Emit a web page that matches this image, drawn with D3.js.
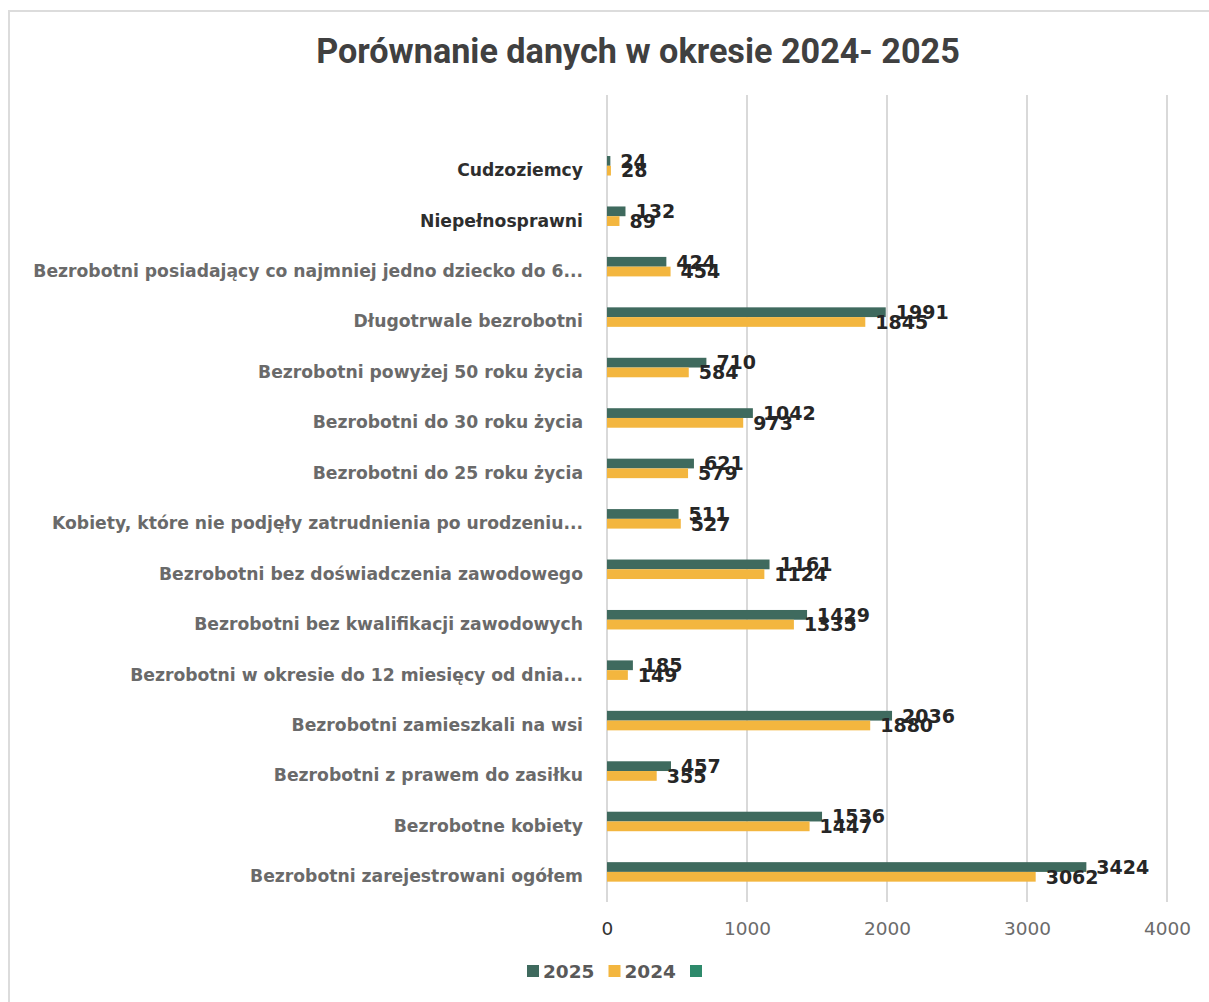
<!DOCTYPE html>
<html lang="pl">
<head>
<meta charset="utf-8">
<title>Porównanie danych w okresie 2024- 2025</title>
<script src="https://cdn.jsdelivr.net/npm/d3@7"></script>
<style>
  html, body { margin: 0; padding: 0; background: #ffffff; }
  svg { display: block; }
</style>
</head>
<body>
<div id="chart"></div>
<script>
// Kategorie (od góry wykresu do dołu)
const categories = [
  "Cudzoziemcy",
  "Niepełnosprawni",
  "Bezrobotni posiadający co najmniej jedno dziecko do 6...",
  "Długotrwale bezrobotni",
  "Bezrobotni powyżej 50 roku życia",
  "Bezrobotni do 30 roku życia",
  "Bezrobotni do 25 roku życia",
  "Kobiety, które nie podjęły zatrudnienia po urodzeniu...",
  "Bezrobotni bez doświadczenia zawodowego",
  "Bezrobotni bez kwalifikacji zawodowych",
  "Bezrobotni w okresie do 12 miesięcy od dnia...",
  "Bezrobotni zamieszkali na wsi",
  "Bezrobotni z prawem do zasiłku",
  "Bezrobotne kobiety",
  "Bezrobotni  zarejestrowani ogółem"
];

// Wartości serii
const values2025 = [24, 132, 424, 1991, 710, 1042, 621, 511, 1161, 1429, 185, 2036, 457, 1536, 3424];
const values2024 = [28, 89, 454, 1845, 584, 973, 579, 527, 1124, 1335, 149, 1880, 355, 1447, 3062];
const valuesUnnamed = []; // trzecia seria bez nazwy i bez danych

const seriesNames = ["2025", "2024", ""];
const seriesColors = ["#3f6a5e", "#f3b63f", "#2e8a6b"];

const xTicks = [0, 1000, 2000, 3000, 4000];
const chartTitle = "Porównanie danych w okresie 2024- 2025";
const emphasized = ["Cudzoziemcy", "Niepełnosprawni"];

const W = 1209, H = 1002;
const plot = { left: 607, right: 1167, top: 95, bottom: 902 };

const svg = d3.select("#chart").append("svg")
  .attr("width", W).attr("height", H);

svg.append("rect").attr("width", W).attr("height", H).attr("fill", "#ffffff");

// ramka obszaru wykresu
svg.append("rect")
  .attr("x", 9).attr("y", 11)
  .attr("width", W + 20).attr("height", H + 20)
  .attr("fill", "none").attr("stroke", "#dcdcdc").attr("stroke-width", 2);

// tytuł, dopasowany do szerokości 644 px
const title = svg.append("text")
  .attr("x", 638).attr("y", 63)
  .attr("text-anchor", "middle")
  .attr("font-family", "Roboto, 'Liberation Sans', sans-serif")
  .attr("font-weight", 700)
  .attr("font-size", 30)
  .attr("fill", "#404040")
  .text(chartTitle);
const tw0 = title.node().getComputedTextLength();
title.attr("font-size", 30 * 644 / tw0);

const x = d3.scaleLinear().domain([0, 4000]).range([plot.left, plot.right]);

// 16 pasm w obszarze wykresu; kategorie zajmują dolne 15
const step = (plot.bottom - plot.top) / (categories.length + 1);
const y = d3.scaleBand()
  .domain(categories)
  .range([plot.top + step, plot.bottom])
  .paddingInner(0.42)
  .paddingOuter(0.21);

const ySub = d3.scaleBand()
  .domain(seriesNames.map((d, i) => i))
  .range([0, y.bandwidth()]);

// linie siatki
const grid = svg.append("g");
grid.selectAll("line").data(xTicks).join("line")
  .attr("x1", d => x(d)).attr("x2", d => x(d))
  .attr("y1", plot.top).attr("y2", plot.bottom)
  .attr("stroke", "#d9d9d9").attr("stroke-width", 2);

// etykiety osi X
const xAxis = d3.axisBottom(x).tickValues(xTicks).tickSize(0).tickPadding(0).tickFormat(d3.format("d"));
const gx = svg.append("g").attr("transform", `translate(0, ${plot.bottom + 20})`).call(xAxis);
gx.select(".domain").remove();
gx.selectAll("text")
  .attr("font-family", "'DejaVu Sans', sans-serif")
  .attr("font-size", 18.5)
  .attr("fill", (d, i) => i === 0 ? "#333333" : "#6b6b6b");

// etykiety kategorii
const yAxis = d3.axisLeft(y).tickSize(0).tickPadding(0);
const gy = svg.append("g").attr("transform", `translate(${plot.left - 24}, 0)`).call(yAxis);
gy.select(".domain").remove();
gy.selectAll("text")
  .attr("font-family", "'DejaVu Sans', sans-serif")
  .attr("font-weight", 700)
  .attr("font-size", 17.2)
  .attr("fill", d => emphasized.includes(d) ? "#2e2e2e" : "#6a6a6a");

// słupki
const seriesData = [values2025, values2024, valuesUnnamed];
seriesData.forEach((vals, si) => {
  const rows = vals.map((v, i) => ({ cat: categories[i], v }));
  const g = svg.append("g");
  g.selectAll("rect").data(rows).join("rect")
    .attr("x", x(0))
    .attr("y", d => y(d.cat) + ySub(si))
    .attr("width", d => x(d.v) - x(0))
    .attr("height", ySub.bandwidth())
    .attr("fill", seriesColors[si]);
});

// etykiety wartości
seriesData.forEach((vals, si) => {
  const rows = vals.map((v, i) => ({ cat: categories[i], v }));
  svg.append("g").selectAll("text").data(rows).join("text")
    .attr("x", d => x(d.v) + 10)
    .attr("y", d => y(d.cat) + ySub(si) + ySub.bandwidth() / 2)
    .attr("dy", "0.36em")
    .attr("font-family", "'DejaVu Sans', sans-serif")
    .attr("font-weight", 700)
    .attr("font-size", 19)
    .attr("fill", "#262626")
    .text(d => d.v);
});

// legenda
const legend = svg.append("g").attr("transform", "translate(527, 971)");
let lx = 0;
seriesNames.forEach((name, i) => {
  const item = legend.append("g").attr("transform", `translate(${lx}, 0)`);
  item.append("rect")
    .attr("x", 0).attr("y", -6).attr("width", 12).attr("height", 12)
    .attr("fill", seriesColors[i]);
  const t = item.append("text")
    .attr("x", 16).attr("y", 0).attr("dy", "0.36em")
    .attr("font-family", "'DejaVu Sans', sans-serif")
    .attr("font-weight", 700)
    .attr("font-size", 18.5)
    .attr("fill", "#595959")
    .text(name);
  const tw = name ? t.node().getComputedTextLength() : 0;
  lx += 16 + tw + 14;
});
</script>
</body>
</html>
